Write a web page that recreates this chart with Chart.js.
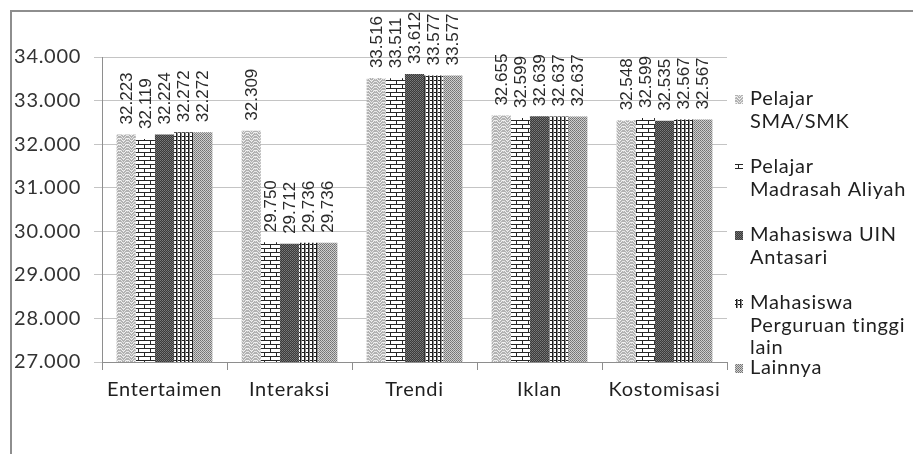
<!DOCTYPE html>
<html>
<head>
<meta charset="utf-8">
<script src="https://cdn.jsdelivr.net/npm/chart.js@4.4.1/dist/chart.umd.min.js"></script>
<style>
  html, body { margin: 0; padding: 0; background: #ffffff; }
  #wrap { width: 913px; height: 454px; position: relative; }
</style>
</head>
<body>
<div id="wrap"><canvas id="c" width="913" height="454"></canvas></div>
<script>
// ---------- data ----------
const categories = ['Entertaimen', 'Interaksi', 'Trendi', 'Iklan', 'Kostomisasi'];
const seriesNames = [
  ['Pelajar', 'SMA/SMK'],
  ['Pelajar', 'Madrasah Aliyah'],
  ['Mahasiswa UIN', 'Antasari'],
  ['Mahasiswa', 'Perguruan tinggi', 'lain'],
  ['Lainnya']
];
const smaSmk         = [32223, 32309, 33516, 32655, 32548];
const madrasahAliyah = [32119, 29750, 33511, 32599, 32599];
const uinAntasari    = [32224, 29712, 33612, 32639, 32535];
const ptLain         = [32272, 29736, 33577, 32637, 32567];
const lainnya        = [32272, 29736, 33577, 32637, 32567];
const yMin = 27000, yMax = 34000, yStep = 1000;

function fmt(v) {
  const s = String(Math.round(v));
  return s.slice(0, -3) + '.' + s.slice(-3);
}

// ---------- patterns ----------
function makePattern(w, h, draw) {
  const c = document.createElement('canvas');
  c.width = w; c.height = h;
  const g = c.getContext('2d');
  draw(g, w, h);
  return document.getElementById('c').getContext('2d').createPattern(c, 'repeat');
}
const px = (g, x, y, col) => { g.fillStyle = col; g.fillRect(x, y, 1, 1); };

const patZigzag = makePattern(8, 6, (g, w, h) => {
  g.fillStyle = '#b2b2b2'; g.fillRect(0, 0, w, h);
  const a = [[0,0],[1,1],[2,2],[3,3],[4,2],[5,1],[6,0],[7,0]];
  a.forEach(p => { px(g, p[0], p[1], '#f2f2f2'); px(g, p[0], (p[1] + 3) % 6, '#e6e6e6'); });
  [[1,0],[5,0],[3,2],[7,1]].forEach(p => px(g, p[0], p[1], '#d4d4d4'));
});
const patBrick = makePattern(12, 8, (g, w, h) => {
  g.fillStyle = '#ffffff'; g.fillRect(0, 0, w, h);
  g.fillStyle = '#262626';
  g.fillRect(0, 0, w, 1); g.fillRect(0, 4, w, 1);
  g.fillRect(0, 1, 1, 3); g.fillRect(6, 5, 1, 3);
});
const patDark = makePattern(2, 2, (g) => {
  g.fillStyle = '#3a3a3a'; g.fillRect(0, 0, 2, 2);
  px(g, 0, 0, '#7a7a7a'); px(g, 1, 1, '#6a6a6a');
});
const patGrid = makePattern(4, 4, (g) => {
  g.fillStyle = '#ffffff'; g.fillRect(0, 0, 4, 4);
  g.fillStyle = '#1e1e1e';
  g.fillRect(0, 0, 1, 4); g.fillRect(0, 0, 4, 1);
  g.fillStyle = '#8a8a8a'; g.fillRect(1, 0, 1, 4);
});
const patCheck = makePattern(2, 2, (g) => {
  g.fillStyle = '#cfcfcf'; g.fillRect(0, 0, 2, 2);
  px(g, 0, 0, '#727272'); px(g, 1, 1, '#828282');
});
const patterns = [patZigzag, patBrick, patDark, patGrid, patCheck];
const seriesData = [smaSmk, madrasahAliyah, uinAntasari, ptLain, lainnya];

const FONT = 'Lato, "Open Sans", sans-serif';
const SPACING = '0.7px';

// ---------- plugins ----------
const frame = {
  id: 'frame',
  beforeDraw(chart) {
    const ctx = chart.ctx;
    ctx.save();
    ctx.fillStyle = '#ffffff';
    ctx.fillRect(0, 0, chart.width, chart.height);
    ctx.strokeStyle = '#8e8e8e';
    ctx.lineWidth = 2;
    ctx.beginPath();
    ctx.moveTo(11, chart.height + 2); ctx.lineTo(11, 11); ctx.lineTo(chart.width + 2, 11);
    ctx.stroke();
    ctx.restore();
    ctx.letterSpacing = SPACING;
  }
};
const valueLabels = {
  id: 'valueLabels',
  afterDatasetsDraw(chart) {
    const ctx = chart.ctx;
    ctx.save();
    ctx.letterSpacing = '0px';
    ctx.font = '17px "Liberation Sans", Arial, sans-serif';
    ctx.fillStyle = '#2a2a2a';
    ctx.textAlign = 'left';
    ctx.textBaseline = 'middle';
    chart.data.datasets.forEach((ds, i) => {
      const meta = chart.getDatasetMeta(i);
      meta.data.forEach((bar, j) => {
        ctx.save();
        ctx.translate(bar.x + 1, bar.y - 10);
        ctx.rotate(-Math.PI / 2);
        ctx.fillText(fmt(ds.data[j]), 0, 0);
        ctx.restore();
      });
    });
    ctx.restore();
  }
};
const sideLegend = {
  id: 'sideLegend',
  afterDraw(chart) {
    const ctx = chart.ctx;
    const starts = [99, 167, 235, 303, 368];
    const lh = 22.5;
    const x0 = chart.chartArea.right + 8;
    ctx.save();
    ctx.letterSpacing = SPACING;
    ctx.font = '20px ' + FONT;
    ctx.textAlign = 'left';
    ctx.textBaseline = 'middle';
    seriesNames.forEach((lines, i) => {
      ctx.fillStyle = patterns[i];
      ctx.fillRect(x0, starts[i] - 4, 8, 9);
      ctx.fillStyle = '#1f1f1f';
      lines.forEach((t, k) => ctx.fillText(t, x0 + 15, starts[i] + k * lh));
    });
    ctx.restore();
  }
};

// ---------- chart ----------
new Chart(document.getElementById('c'), {
  type: 'bar',
  data: {
    labels: categories,
    datasets: seriesData.map((d, i) => ({
      label: seriesNames[i].join(' '),
      data: d,
      backgroundColor: patterns[i],
      borderWidth: 0,
      categoryPercentage: 0.766,
      barPercentage: 1.0
    }))
  },
  options: {
    responsive: false,
    animation: false,
    devicePixelRatio: 1,
    layout: { padding: { left: 12, top: 57, right: 186, bottom: 0 } },
    plugins: { legend: { display: false }, tooltip: { enabled: false } },
    scales: {
      x: {
        offset: true,
        grid: { offset: true, drawOnChartArea: false, drawTicks: true, tickLength: 8, color: '#8e8e8e' },
        border: { display: true, color: '#8e8e8e', width: 1 },
        ticks: {
          color: '#1f1f1f', padding: 8, maxRotation: 0, autoSkip: false,
          font: { family: FONT, size: 20 }
        },
        afterFit(scale) { scale.height = 92; }
      },
      y: {
        min: yMin, max: yMax,
        grid: { color: '#c4c4c4', tickLength: 8, drawTicks: true },
        border: { display: true, color: '#8e8e8e', width: 1 },
        ticks: {
          stepSize: yStep, color: '#333333', padding: 13,
          font: { family: FONT, size: 20 },
          callback: (v) => fmt(v)
        },
        afterFit(scale) { scale.width = 90; }
      }
    }
  },
  plugins: [frame, valueLabels, sideLegend]
});
</script>
</body>
</html>
